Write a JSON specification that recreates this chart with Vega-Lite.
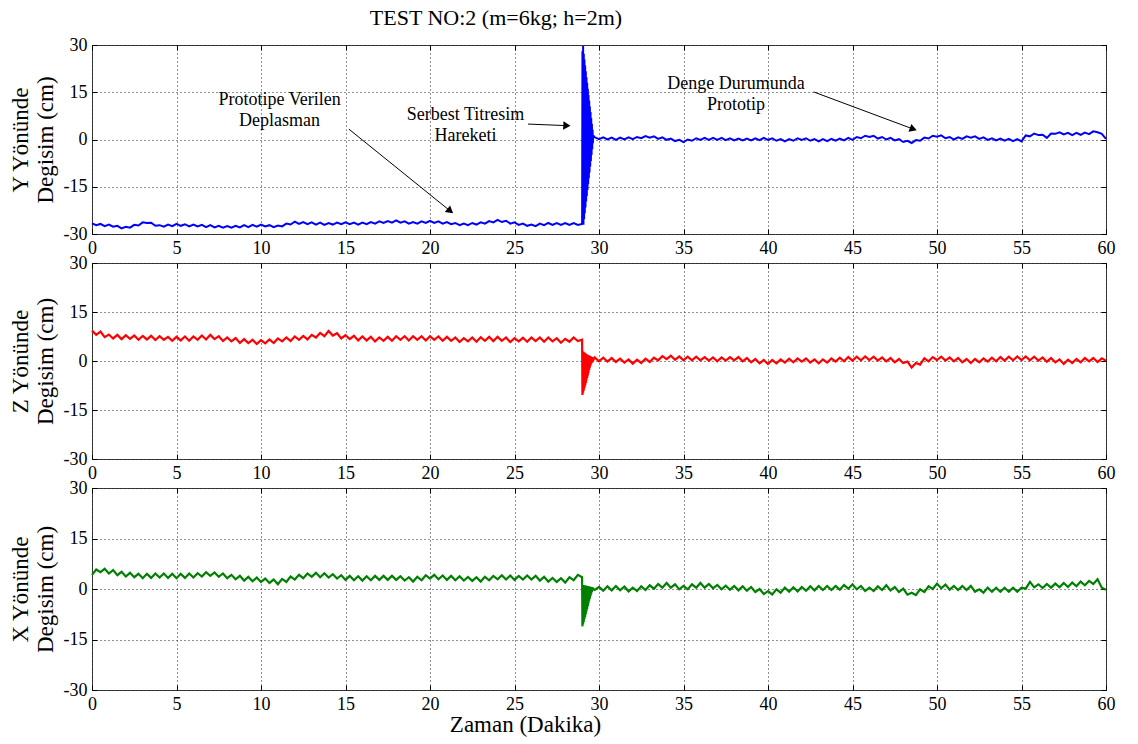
{
"$schema": "https://vega.github.io/schema/vega-lite/v6.json",
"background": "white",
"padding": {"left": 8, "top": 6, "right": 20, "bottom": 4},
"title": {"text": "TEST NO:2 (m=6kg; h=2m)", "font": "Liberation Serif", "fontSize": 22, "fontWeight": "normal", "color": "#000", "anchor": "middle", "offset": 6, "dx": -66},
"bounds": "flush",
"spacing": 29,
"datasets": {
"s": [
{"t":0,"Y":-26.6,"Z":9.3,"X":4.2},{"t":0.25,"Y":-27.2,"Z":8.0,"X":5.8},{"t":0.5,"Y":-26.8,"Z":9.0,"X":5.0},{"t":0.75,"Y":-27.5,"Z":7.3,"X":6.0},
{"t":1,"Y":-27.0,"Z":8.1,"X":4.6},{"t":1.25,"Y":-27.7,"Z":6.9,"X":5.6},{"t":1.5,"Y":-27.4,"Z":8.0,"X":4.1},{"t":1.75,"Y":-28.2,"Z":6.7,"X":5.1},
{"t":2,"Y":-27.7,"Z":7.9,"X":3.7},{"t":2.25,"Y":-28.0,"Z":6.8,"X":4.8},{"t":2.5,"Y":-27.1,"Z":7.8,"X":3.5},{"t":2.75,"Y":-27.3,"Z":6.5,"X":4.5},
{"t":3,"Y":-26.3,"Z":7.7,"X":3.2},{"t":3.25,"Y":-26.5,"Z":6.6,"X":4.5},{"t":3.5,"Y":-26.4,"Z":7.7,"X":3.3},{"t":3.75,"Y":-27.4,"Z":6.4,"X":4.6},
{"t":4,"Y":-27.2,"Z":7.6,"X":3.4},{"t":4.25,"Y":-27.7,"Z":6.5,"X":4.6},{"t":4.5,"Y":-27.0,"Z":7.4,"X":3.3},{"t":4.75,"Y":-27.5,"Z":6.2,"X":4.5},
{"t":5,"Y":-26.8,"Z":7.4,"X":3.2},{"t":5.25,"Y":-27.4,"Z":6.3,"X":4.5},{"t":5.5,"Y":-26.9,"Z":7.5,"X":3.3},{"t":5.75,"Y":-27.6,"Z":6.2,"X":4.6},
{"t":6,"Y":-27.0,"Z":7.5,"X":3.4},{"t":6.25,"Y":-27.6,"Z":6.5,"X":4.7},{"t":6.5,"Y":-27.1,"Z":7.8,"X":3.7},{"t":6.75,"Y":-27.8,"Z":6.6,"X":5.0},
{"t":7,"Y":-27.2,"Z":8.0,"X":3.9},{"t":7.25,"Y":-27.9,"Z":6.7,"X":4.9},{"t":7.5,"Y":-27.4,"Z":7.6,"X":3.6},{"t":7.75,"Y":-28.0,"Z":6.1,"X":4.6},
{"t":8,"Y":-27.5,"Z":7.2,"X":3.2},{"t":8.25,"Y":-28.0,"Z":6.0,"X":4.2},{"t":8.5,"Y":-27.4,"Z":7.0,"X":2.9},{"t":8.75,"Y":-27.9,"Z":5.5,"X":3.9},
{"t":9,"Y":-27.2,"Z":6.7,"X":2.5},{"t":9.25,"Y":-27.8,"Z":5.5,"X":3.6},{"t":9.5,"Y":-27.1,"Z":6.5,"X":2.3},{"t":9.75,"Y":-27.7,"Z":5.2,"X":3.4},
{"t":10,"Y":-27.0,"Z":6.4,"X":2.1},{"t":10.25,"Y":-27.6,"Z":5.4,"X":3.1},{"t":10.5,"Y":-27.2,"Z":6.6,"X":1.8},{"t":10.75,"Y":-27.8,"Z":5.5,"X":2.8},
{"t":11,"Y":-27.3,"Z":6.9,"X":1.4},{"t":11.25,"Y":-27.6,"Z":6.0,"X":3.0},{"t":11.5,"Y":-26.7,"Z":7.2,"X":2.1},{"t":11.75,"Y":-27.0,"Z":6.1,"X":3.7},
{"t":12,"Y":-26.1,"Z":7.5,"X":2.8},{"t":12.25,"Y":-26.8,"Z":6.5,"X":4.2},{"t":12.5,"Y":-26.2,"Z":7.7,"X":3.2},{"t":12.75,"Y":-26.9,"Z":6.6,"X":4.6},
{"t":13,"Y":-26.3,"Z":8.0,"X":3.6},{"t":13.25,"Y":-27.0,"Z":7.2,"X":4.8},{"t":13.5,"Y":-26.4,"Z":8.6,"X":3.5},{"t":13.75,"Y":-27.1,"Z":7.6,"X":4.7},
{"t":14,"Y":-26.5,"Z":9.2,"X":3.4},{"t":14.25,"Y":-27.0,"Z":7.8,"X":4.4},{"t":14.5,"Y":-26.4,"Z":8.5,"X":3.1},{"t":14.75,"Y":-26.9,"Z":6.9,"X":4.1},
{"t":15,"Y":-26.3,"Z":7.9,"X":2.7},{"t":15.25,"Y":-26.9,"Z":6.7,"X":3.9},{"t":15.5,"Y":-26.4,"Z":7.7,"X":2.6},{"t":15.75,"Y":-27.0,"Z":6.3,"X":3.8},
{"t":16,"Y":-26.4,"Z":7.5,"X":2.5},{"t":16.25,"Y":-26.9,"Z":6.3,"X":3.8},{"t":16.5,"Y":-26.2,"Z":7.4,"X":2.6},{"t":16.75,"Y":-26.7,"Z":6.0,"X":3.9},
{"t":17,"Y":-26.0,"Z":7.2,"X":2.7},{"t":17.25,"Y":-26.5,"Z":6.2,"X":3.9},{"t":17.5,"Y":-25.9,"Z":7.4,"X":2.7},{"t":17.75,"Y":-26.4,"Z":6.2,"X":3.9},
{"t":18,"Y":-25.7,"Z":7.6,"X":2.7},{"t":18.25,"Y":-26.4,"Z":6.5,"X":3.8},{"t":18.5,"Y":-26.0,"Z":7.6,"X":2.5},{"t":18.75,"Y":-26.7,"Z":6.3,"X":3.5},
{"t":19,"Y":-26.2,"Z":7.6,"X":2.2},{"t":19.25,"Y":-26.7,"Z":6.5,"X":3.6},{"t":19.5,"Y":-26.0,"Z":7.6,"X":2.6},{"t":19.75,"Y":-26.5,"Z":6.3,"X":4.1},
{"t":20,"Y":-25.8,"Z":7.6,"X":3.1},{"t":20.25,"Y":-26.5,"Z":6.5,"X":4.2},{"t":20.5,"Y":-26.0,"Z":7.5,"X":2.9},{"t":20.75,"Y":-26.7,"Z":6.2,"X":4.0},
{"t":21,"Y":-26.2,"Z":7.4,"X":2.7},{"t":21.25,"Y":-26.9,"Z":6.2,"X":3.9},{"t":21.5,"Y":-26.5,"Z":7.2,"X":2.6},{"t":21.75,"Y":-27.2,"Z":5.8,"X":3.8},
{"t":22,"Y":-26.7,"Z":7.0,"X":2.5},{"t":22.25,"Y":-27.2,"Z":6.0,"X":3.6},{"t":22.5,"Y":-26.5,"Z":7.2,"X":2.4},{"t":22.75,"Y":-27.0,"Z":5.9,"X":3.5},
{"t":23,"Y":-26.3,"Z":7.3,"X":2.2},{"t":23.25,"Y":-26.7,"Z":6.2,"X":3.6},{"t":23.5,"Y":-25.9,"Z":7.4,"X":2.6},{"t":23.75,"Y":-26.3,"Z":6.1,"X":3.9},
{"t":24,"Y":-25.5,"Z":7.4,"X":2.9},{"t":24.25,"Y":-26.2,"Z":6.2,"X":4.1},{"t":24.5,"Y":-25.8,"Z":7.2,"X":2.8},{"t":24.75,"Y":-26.7,"Z":5.8,"X":4.0},
{"t":25,"Y":-26.3,"Z":7.0,"X":2.7},{"t":25.25,"Y":-27.1,"Z":6.0,"X":3.9},{"t":25.5,"Y":-26.7,"Z":7.1,"X":2.8},{"t":25.75,"Y":-27.4,"Z":5.9,"X":4.0},
{"t":26,"Y":-27.0,"Z":7.2,"X":2.8},{"t":26.25,"Y":-27.5,"Z":6.1,"X":3.9},{"t":26.5,"Y":-26.7,"Z":7.2,"X":2.5},{"t":26.75,"Y":-27.2,"Z":5.9,"X":3.6},
{"t":27,"Y":-26.5,"Z":7.2,"X":2.2},{"t":27.25,"Y":-27.1,"Z":6.0,"X":3.3},{"t":27.5,"Y":-26.5,"Z":7.0,"X":2.1},{"t":27.75,"Y":-27.1,"Z":5.6,"X":3.2},
{"t":28,"Y":-26.5,"Z":6.8,"X":1.9},{"t":28.25,"Y":-27.1,"Z":5.9,"X":3.5},{"t":28.5,"Y":-26.5,"Z":7.2,"X":2.6},{"t":28.75,"Y":-27.1,"Z":6.1,"X":4.2},
{"t":29.00,"Y":-26.8,"Z":6.5,"X":3.5},{"t":29.02,"Y":28.0,"Z":-10.4,"X":-11.1},{"t":29.04,"Y":-27.0,"Z":3.0,"X":1.2},{"t":29.06,"Y":29.8,"Z":-9.7,"X":-10.5},
{"t":29.08,"Y":-27.1,"Z":2.8,"X":1.2},{"t":29.10,"Y":27.2,"Z":-9.0,"X":-9.8},{"t":29.12,"Y":-25.3,"Z":2.6,"X":1.1},{"t":29.14,"Y":25.4,"Z":-8.3,"X":-9.0},
{"t":29.16,"Y":-23.4,"Z":2.5,"X":1.1},{"t":29.18,"Y":23.5,"Z":-7.6,"X":-8.3},{"t":29.20,"Y":-21.6,"Z":2.3,"X":1.0},{"t":29.22,"Y":21.7,"Z":-6.8,"X":-7.5},
{"t":29.24,"Y":-19.7,"Z":2.2,"X":1.0},{"t":29.26,"Y":19.8,"Z":-6.0,"X":-6.7},{"t":29.28,"Y":-17.9,"Z":2.0,"X":0.9},{"t":29.30,"Y":18.0,"Z":-5.2,"X":-5.9},
{"t":29.32,"Y":-16.0,"Z":1.9,"X":0.9},{"t":29.34,"Y":16.1,"Z":-4.4,"X":-5.1},{"t":29.36,"Y":-14.2,"Z":1.8,"X":0.8},{"t":29.38,"Y":14.2,"Z":-3.6,"X":-4.3},
{"t":29.40,"Y":-12.3,"Z":1.7,"X":0.8},{"t":29.42,"Y":12.4,"Z":-2.8,"X":-3.5},{"t":29.44,"Y":-10.5,"Z":1.6,"X":0.7},{"t":29.46,"Y":10.5,"Z":-2.0,"X":-2.8},
{"t":29.48,"Y":-8.6,"Z":1.5,"X":0.7},{"t":29.50,"Y":8.7,"Z":-1.4,"X":-2.1},{"t":29.52,"Y":-6.8,"Z":1.4,"X":0.6},{"t":29.54,"Y":6.8,"Z":-0.8,"X":-1.5},
{"t":29.56,"Y":-4.9,"Z":1.3,"X":0.6},{"t":29.58,"Y":5.0,"Z":-0.3,"X":-0.9},{"t":29.60,"Y":-3.1,"Z":1.2,"X":0.5},{"t":29.62,"Y":3.1,"Z":0.0,"X":-0.4},
{"t":29.64,"Y":-1.2,"Z":1.1,"X":0.4},{"t":29.66,"Y":1.3,"Z":0.3,"X":0.0},
{"t":29.75,"Y":0.7,"Z":1.1,"X":-0.3},{"t":30,"Y":0.1,"Z":-0.1,"X":0.6},{"t":30.25,"Y":0.7,"Z":1.0,"X":-0.5},{"t":30.5,"Y":0.0,"Z":-0.2,"X":0.8},
{"t":30.75,"Y":0.6,"Z":0.9,"X":-0.4},{"t":31,"Y":-0.1,"Z":-0.3,"X":0.9},{"t":31.25,"Y":0.6,"Z":0.7,"X":-0.4},{"t":31.5,"Y":0.0,"Z":-0.5,"X":0.7},
{"t":31.75,"Y":0.7,"Z":0.5,"X":-0.7},{"t":32,"Y":0.1,"Z":-0.8,"X":0.4},{"t":32.25,"Y":0.8,"Z":0.4,"X":-0.6},{"t":32.5,"Y":0.4,"Z":-0.6,"X":0.8},
{"t":32.75,"Y":1.1,"Z":0.7,"X":-0.3},{"t":33,"Y":0.6,"Z":-0.3,"X":1.1},{"t":33.25,"Y":1.0,"Z":1.0,"X":0.1},{"t":33.5,"Y":0.2,"Z":0.2,"X":1.5},
{"t":33.75,"Y":0.7,"Z":1.5,"X":0.4},{"t":34,"Y":-0.1,"Z":0.6,"X":1.8},{"t":34.25,"Y":0.3,"Z":1.6,"X":0.4},{"t":34.5,"Y":-0.5,"Z":0.4,"X":1.4},
{"t":34.75,"Y":-0.1,"Z":1.4,"X":-0.1},{"t":35,"Y":-0.8,"Z":0.2,"X":0.9},{"t":35.25,"Y":0.0,"Z":1.3,"X":-0.1},{"t":35.5,"Y":-0.4,"Z":0.2,"X":1.4},
{"t":35.75,"Y":0.4,"Z":1.3,"X":0.4},{"t":36,"Y":-0.1,"Z":0.2,"X":1.8},{"t":36.25,"Y":0.5,"Z":1.2,"X":0.4},{"t":36.5,"Y":-0.1,"Z":0.1,"X":1.5},
{"t":36.75,"Y":0.5,"Z":1.1,"X":0.2},{"t":37,"Y":-0.1,"Z":-0.1,"X":1.2},{"t":37.25,"Y":0.5,"Z":1.1,"X":-0.1},{"t":37.5,"Y":-0.2,"Z":0.1,"X":1.0},
{"t":37.75,"Y":0.4,"Z":1.2,"X":-0.2},{"t":38,"Y":-0.3,"Z":0.2,"X":0.9},{"t":38.25,"Y":0.3,"Z":1.2,"X":-0.4},{"t":38.5,"Y":-0.3,"Z":-0.1,"X":0.8},
{"t":38.75,"Y":0.3,"Z":0.9,"X":-0.5},{"t":39,"Y":-0.3,"Z":-0.4,"X":0.6},{"t":39.25,"Y":0.4,"Z":0.6,"X":-0.9},{"t":39.5,"Y":-0.2,"Z":-0.7,"X":0.0},
{"t":39.75,"Y":0.5,"Z":0.3,"X":-1.5},{"t":40,"Y":-0.1,"Z":-0.9,"X":-0.6},{"t":40.25,"Y":0.4,"Z":0.3,"X":-1.6},{"t":40.5,"Y":-0.4,"Z":-0.7,"X":-0.1},
{"t":40.75,"Y":0.1,"Z":0.5,"X":-1.1},{"t":41,"Y":-0.6,"Z":-0.5,"X":0.4},{"t":41.25,"Y":0.1,"Z":0.7,"X":-0.8},{"t":41.5,"Y":-0.4,"Z":-0.4,"X":0.5},
{"t":41.75,"Y":0.4,"Z":0.8,"X":-0.7},{"t":42,"Y":-0.1,"Z":-0.2,"X":0.6},{"t":42.25,"Y":0.4,"Z":0.8,"X":-0.5},{"t":42.5,"Y":-0.4,"Z":-0.5,"X":0.8},
{"t":42.75,"Y":0.1,"Z":0.5,"X":-0.4},{"t":43,"Y":-0.6,"Z":-0.7,"X":0.9},{"t":43.25,"Y":0.1,"Z":0.5,"X":-0.3},{"t":43.5,"Y":-0.5,"Z":-0.5,"X":0.9},
{"t":43.75,"Y":0.2,"Z":0.8,"X":-0.3},{"t":44,"Y":-0.4,"Z":-0.2,"X":0.9},{"t":44.25,"Y":0.3,"Z":1.0,"X":-0.2},{"t":44.5,"Y":-0.3,"Z":-0.1,"X":1.2},
{"t":44.75,"Y":0.5,"Z":1.2,"X":0.1},{"t":45,"Y":-0.1,"Z":0.1,"X":1.4},{"t":45.25,"Y":0.8,"Z":1.3,"X":-0.1},{"t":45.5,"Y":0.4,"Z":0.2,"X":0.9},
{"t":45.75,"Y":1.2,"Z":1.4,"X":-0.6},{"t":46,"Y":0.8,"Z":0.3,"X":0.4},{"t":46.25,"Y":1.2,"Z":1.3,"X":-0.6},{"t":46.5,"Y":0.3,"Z":0.1,"X":0.8},
{"t":46.75,"Y":0.8,"Z":1.1,"X":-0.3},{"t":47,"Y":0.0,"Z":-0.1,"X":1.1},{"t":47.25,"Y":0.5,"Z":0.9,"X":-0.4},{"t":47.5,"Y":-0.3,"Z":-0.4,"X":0.6},
{"t":47.75,"Y":0.1,"Z":0.6,"X":-0.9},{"t":48,"Y":-0.8,"Z":-0.6,"X":0.1},{"t":48.25,"Y":-0.4,"Z":-0.2,"X":-1.7},{"t":48.5,"Y":-1.1,"Z":-2.0,"X":-1.1},
{"t":48.75,"Y":-0.2,"Z":-0.6,"X":-1.8},{"t":49,"Y":-0.4,"Z":-1.1,"X":-0.1},{"t":49.25,"Y":0.6,"Z":0.8,"X":-0.9},{"t":49.5,"Y":0.3,"Z":-0.1,"X":0.8},
{"t":49.75,"Y":1.2,"Z":1.2,"X":0.0},{"t":50,"Y":0.9,"Z":0.3,"X":1.6},{"t":50.25,"Y":1.3,"Z":1.3,"X":0.2},{"t":50.5,"Y":0.4,"Z":0.1,"X":1.3},
{"t":50.75,"Y":0.8,"Z":1.1,"X":-0.2},{"t":51,"Y":0.0,"Z":-0.1,"X":0.9},{"t":51.25,"Y":0.7,"Z":0.9,"X":-0.3},{"t":51.5,"Y":0.2,"Z":-0.4,"X":0.9},
{"t":51.75,"Y":1.0,"Z":0.6,"X":-0.3},{"t":52,"Y":0.6,"Z":-0.6,"X":0.9},{"t":52.25,"Y":1.0,"Z":0.6,"X":-0.8},{"t":52.5,"Y":0.2,"Z":-0.4,"X":-0.1},
{"t":52.75,"Y":0.7,"Z":0.8,"X":-1.1},{"t":53,"Y":-0.1,"Z":-0.2,"X":0.4},{"t":53.25,"Y":0.4,"Z":1.0,"X":-0.8},{"t":53.5,"Y":-0.3,"Z":-0.1,"X":0.4},
{"t":53.75,"Y":0.3,"Z":1.2,"X":-0.8},{"t":54,"Y":-0.4,"Z":0.1,"X":0.4},{"t":54.25,"Y":0.2,"Z":1.3,"X":-0.8},{"t":54.5,"Y":-0.5,"Z":0.2,"X":0.4},
{"t":54.75,"Y":0.1,"Z":1.4,"X":-0.8},{"t":55,"Y":-0.6,"Z":0.3,"X":0.4},{"t":55.25,"Y":1.3,"Z":1.4,"X":0.1},{"t":55.5,"Y":1.0,"Z":0.2,"X":2.1},
{"t":55.75,"Y":1.9,"Z":1.3,"X":0.5},{"t":56,"Y":1.4,"Z":0.1,"X":1.4},{"t":56.25,"Y":1.5,"Z":1.1,"X":0.3},{"t":56.5,"Y":0.5,"Z":-0.2,"X":1.5},
{"t":56.75,"Y":1.9,"Z":0.9,"X":0.4},{"t":57,"Y":1.8,"Z":-0.4,"X":1.6},{"t":57.25,"Y":2.3,"Z":0.5,"X":0.5},{"t":57.5,"Y":1.6,"Z":-0.9,"X":1.8},
{"t":57.75,"Y":2.1,"Z":0.4,"X":0.6},{"t":58,"Y":1.4,"Z":-0.6,"X":1.9},{"t":58.25,"Y":2.1,"Z":0.6,"X":0.8},{"t":58.5,"Y":1.5,"Z":-0.4,"X":2.2},
{"t":58.75,"Y":2.2,"Z":0.9,"X":1.1},{"t":59,"Y":1.7,"Z":-0.1,"X":2.4},{"t":59.25,"Y":2.6,"Z":0.9,"X":1.5},{"t":59.5,"Y":2.3,"Z":-0.3,"X":2.9},
{"t":59.75,"Y":1.8,"Z":0.8,"X":0.4},{"t":60,"Y":0.2,"Z":0.1,"X":-0.2}
],
"ann": [
{"t":11.1,"v":12.4,"label":"Prototipe Verilen\nDeplasman"},
{"t":22.1,"v":7.9,"label":"Serbest Titresim\nHareketi"},
{"t":38.1,"v":17.5,"label":"Denge Durumunda\nPrototip"}
],
"arr": [
{"id":1,"t":15.2,"v":3.3,"t2":21.2,"v2":-22.7},
{"id":2,"t":25.8,"v":4.9,"t2":28.1,"v2":4.4},
{"id":3,"t":42.7,"v":15.1,"t2":48.6,"v2":3.3}
]
},
"vconcat": [
{
"width": 1014, "height": 189,
"layer": [
{"data": {"name": "s"}, "mark": {"type": "line", "color": "#0000ff", "strokeWidth": 2},
 "encoding": {
  "x": {"field": "t", "type": "quantitative", "scale": {"domain": [0, 60], "nice": false}, "axis": {"values": [0,5,10,15,20,25,30,35,40,45,50,55,60], "title": null}},
  "y": {"field": "Y", "type": "quantitative", "scale": {"domain": [-30, 30], "nice": false}, "axis": {"values": [-30,-15,0,15,30], "title": ["Y Yönünde", "Degisim (cm)"]}}}},
{"data": {"name": "ann"}, "mark": {"type": "text", "font": "Liberation Serif", "fontSize": 18, "lineBreak": "\n", "lineHeight": 21, "color": "#000"},
 "encoding": {
  "x": {"field": "t", "type": "quantitative", "scale": {"domain": [0, 60], "nice": false}, "axis": {"orient": "top", "labels": false, "grid": false, "title": null, "minExtent": 0, "maxExtent": 0, "values": [0,5,10,15,20,25,30,35,40,45,50,55,60]}},
  "y": {"field": "v", "type": "quantitative", "scale": {"domain": [-30, 30], "nice": false}, "axis": {"orient": "right", "labels": false, "grid": false, "title": null, "minExtent": 0, "maxExtent": 0, "values": [-30,-15,0,15,30]}},
  "text": {"field": "label"}}},
{"data": {"name": "arr"}, "mark": {"type": "rule", "color": "#000", "strokeWidth": 1},
 "encoding": {
  "x": {"field": "t", "type": "quantitative", "axis": null}, "y": {"field": "v", "type": "quantitative", "axis": null},
  "x2": {"field": "t2"}, "y2": {"field": "v2"}}},
{"data": {"name": "arr"}, "transform": [{"filter": "datum.id === 1"}], "mark": {"type": "point", "shape": "triangle-right", "filled": true, "color": "#000", "size": 70, "opacity": 1, "angle": 39},
 "encoding": {"x": {"field": "t2", "type": "quantitative", "axis": null}, "y": {"field": "v2", "type": "quantitative", "axis": null}}},
{"data": {"name": "arr"}, "transform": [{"filter": "datum.id === 2"}], "mark": {"type": "point", "shape": "triangle-right", "filled": true, "color": "#000", "size": 70, "opacity": 1, "angle": 3},
 "encoding": {"x": {"field": "t2", "type": "quantitative", "axis": null}, "y": {"field": "v2", "type": "quantitative", "axis": null}}},
{"data": {"name": "arr"}, "transform": [{"filter": "datum.id === 3"}], "mark": {"type": "point", "shape": "triangle-right", "filled": true, "color": "#000", "size": 70, "opacity": 1, "angle": 20},
 "encoding": {"x": {"field": "t2", "type": "quantitative", "axis": null}, "y": {"field": "v2", "type": "quantitative", "axis": null}}}
],
"resolve": {"axis": {"x": "independent", "y": "independent"}}
},
{
"width": 1014, "height": 196,
"layer": [
{"data": {"name": "s"}, "mark": {"type": "line", "color": "#ff0000", "strokeWidth": 2.2},
 "encoding": {
  "x": {"field": "t", "type": "quantitative", "scale": {"domain": [0, 60], "nice": false}, "axis": {"values": [0,5,10,15,20,25,30,35,40,45,50,55,60], "title": null}},
  "y": {"field": "Z", "type": "quantitative", "scale": {"domain": [-30, 30], "nice": false}, "axis": {"values": [-30,-15,0,15,30], "title": ["Z Yönünde", "Degisim (cm)"]}}}},
{"data": {"name": "s"}, "mark": {"type": "line", "opacity": 0},
 "encoding": {
  "x": {"field": "t", "type": "quantitative", "scale": {"domain": [0, 60], "nice": false}, "axis": {"orient": "top", "labels": false, "grid": false, "title": null, "minExtent": 0, "maxExtent": 0, "values": [0,5,10,15,20,25,30,35,40,45,50,55,60]}},
  "y": {"field": "Z", "type": "quantitative", "scale": {"domain": [-30, 30], "nice": false}, "axis": {"orient": "right", "labels": false, "grid": false, "title": null, "minExtent": 0, "maxExtent": 0, "values": [-30,-15,0,15,30]}}}}
],
"resolve": {"axis": {"x": "independent", "y": "independent"}}
},
{
"width": 1014, "height": 202,
"layer": [
{"data": {"name": "s"}, "mark": {"type": "line", "color": "#008000", "strokeWidth": 2.2},
 "encoding": {
  "x": {"field": "t", "type": "quantitative", "scale": {"domain": [0, 60], "nice": false}, "axis": {"values": [0,5,10,15,20,25,30,35,40,45,50,55,60], "title": "Zaman (Dakika)", "titleFontSize": 23, "titlePadding": 0, "titleX": 433}},
  "y": {"field": "X", "type": "quantitative", "scale": {"domain": [-30, 30], "nice": false}, "axis": {"values": [-30,-15,0,15,30], "title": ["X Yönünde", "Degisim (cm)"]}}}},
{"data": {"name": "s"}, "mark": {"type": "line", "opacity": 0},
 "encoding": {
  "x": {"field": "t", "type": "quantitative", "scale": {"domain": [0, 60], "nice": false}, "axis": {"orient": "top", "labels": false, "grid": false, "title": null, "minExtent": 0, "maxExtent": 0, "values": [0,5,10,15,20,25,30,35,40,45,50,55,60]}},
  "y": {"field": "X", "type": "quantitative", "scale": {"domain": [-30, 30], "nice": false}, "axis": {"orient": "right", "labels": false, "grid": false, "title": null, "minExtent": 0, "maxExtent": 0, "values": [-30,-15,0,15,30]}}}}
],
"resolve": {"axis": {"x": "independent", "y": "independent"}}
}
],
"config": {
"font": "Liberation Serif",
"view": {"stroke": "#3a3a3a", "strokeWidth": 1},
"axis": {
 "domain": false,
 "labelFont": "Liberation Serif", "labelFontSize": 18, "labelColor": "#000", "labelFlush": false, "labelOverlap": false, "labelPadding": 10,
 "labelExpr": "'' + datum.value",
 "titleFont": "Liberation Serif", "titleFontSize": 23, "titleFontWeight": "normal", "titleColor": "#000", "titleLineHeight": 25, "titlePadding": 6,
 "grid": true, "gridColor": "#222", "gridDash": [1, 3], "gridWidth": 1, "gridOpacity": 1,
 "ticks": true, "tickSize": -5, "tickColor": "#000", "tickWidth": 1
}
}
}
